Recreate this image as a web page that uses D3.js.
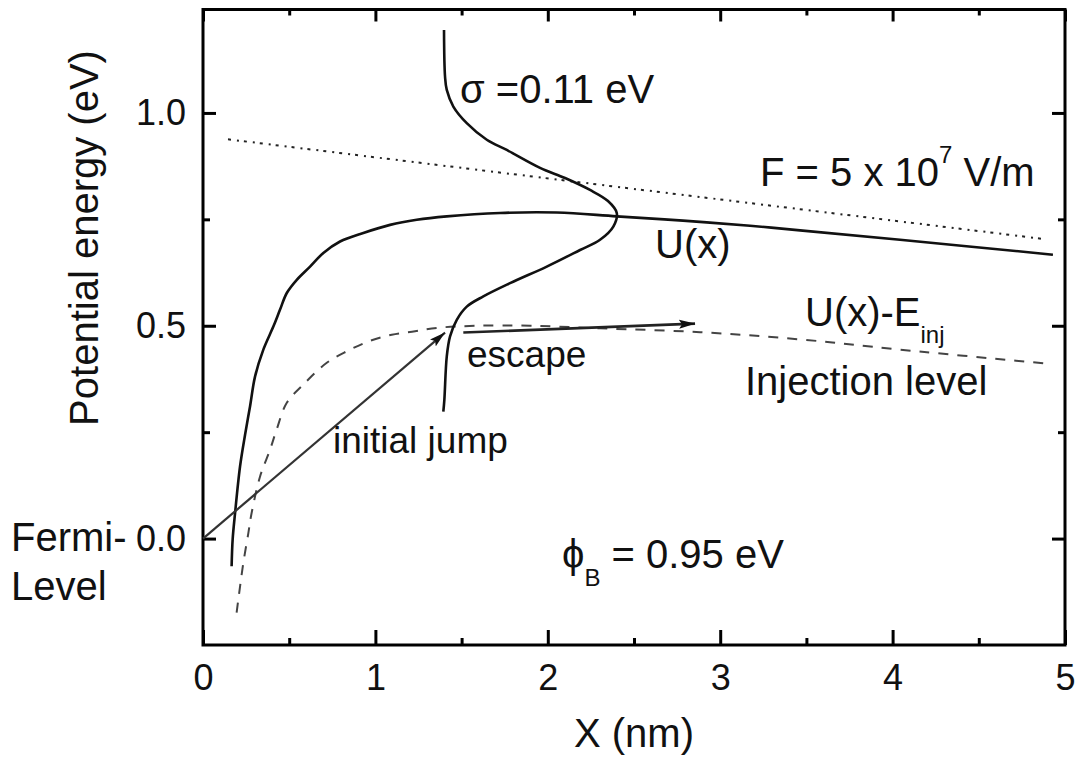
<!DOCTYPE html>
<html>
<head>
<meta charset="utf-8">
<script src="https://cdn.jsdelivr.net/npm/d3@7/dist/d3.min.js"></script>
<style>
  html, body { margin: 0; padding: 0; background: #fff; }
  svg { display: block; font-family: "Liberation Sans", Arial, Helvetica, sans-serif; }
</style>
</head>
<body>
<svg id="chart" width="1081" height="758"></svg>
<script>
// Potential energy landscape for charge injection at a metal/organic contact.

// Axis ticks
const xMajorTicks = [0, 1, 2, 3, 4, 5];
const xMinorTicks = [0.5, 1.5, 2.5, 3.5, 4.5];
const yMajorTicks = [0.0, 0.5, 1.0];
const yMinorTicks = [0.25, 0.75];

// U(x): barrier with image-charge lowering [x (nm), energy (eV)]
const barrierU = [
  [0.166, -0.065], [0.172, -0.002], [0.186, 0.060], [0.215, 0.170],
  [0.244, 0.244], [0.273, 0.311], [0.302, 0.381], [0.350, 0.444],
  [0.408, 0.498], [0.447, 0.538], [0.486, 0.577], [0.544, 0.608],
  [0.621, 0.639], [0.698, 0.671], [0.795, 0.698], [0.930, 0.718],
  [1.085, 0.737], [1.240, 0.749], [1.414, 0.757], [1.723, 0.765],
  [2.052, 0.766], [2.400, 0.757], [2.784, 0.747], [3.173, 0.735],
  [3.463, 0.724], [4.043, 0.702], [4.930, 0.667]
];

// U(x) - E_inj: injection level [x (nm), energy (eV)]
const injectionLevel = [
  [0.195, -0.174], [0.215, -0.112], [0.234, -0.057], [0.263, 0.013],
  [0.282, 0.060], [0.331, 0.146], [0.389, 0.209], [0.427, 0.256],
  [0.486, 0.319], [0.582, 0.362], [0.718, 0.413], [0.834, 0.440],
  [0.959, 0.463], [1.095, 0.479], [1.230, 0.487], [1.356, 0.495],
  [1.588, 0.500], [1.900, 0.500], [2.300, 0.494], [2.883, 0.485],
  [3.463, 0.468], [4.043, 0.444], [4.894, 0.411]
];

// Applied-field line, F = 5e7 V/m [x (nm), energy (eV)]
const fieldLine = [[0.145, 0.938], [4.894, 0.703]];

// Gaussian density of states, sigma = 0.11 eV [energy (eV), x (nm)]
const gaussianDOS = [
  [1.195, 1.398], [1.085, 1.404], [1.054, 1.414], [1.015, 1.452],
  [0.976, 1.530], [0.937, 1.646], [0.913, 1.762], [0.871, 1.955],
  [0.847, 2.100], [0.819, 2.245], [0.793, 2.349], [0.765, 2.400],
  [0.733, 2.380], [0.702, 2.303], [0.678, 2.187], [0.639, 1.994],
  [0.600, 1.781], [0.569, 1.626], [0.545, 1.530], [0.514, 1.472],
  [0.475, 1.433], [0.428, 1.414], [0.326, 1.400], [0.298, 1.394]
];

// Arrows [x (nm), energy (eV)]
const initialJump = [[0.0, 0.0], [1.404, 0.484]];
const escapeArrow = [[1.510, 0.484], [2.854, 0.505]];

const svg = d3.select("#chart");
const W = 1081, H = 758;
svg.append("rect").attr("width", W).attr("height", H).attr("fill", "#fff");

const plot = { left: 203, right: 1065, top: 9.5, bottom: 645 };

const x = d3.scaleLinear().domain([0, 5]).range([plot.left, plot.right]);
const y = d3.scaleLinear().domain([-0.25, 1.243]).range([plot.bottom, plot.top]);

const tickFont = 36;
const textFont = 40;

// Arrowhead marker
const defs = svg.append("defs");
defs.append("marker")
  .attr("id", "arrowHead")
  .attr("viewBox", "0 0 16 10")
  .attr("refX", 16).attr("refY", 5)
  .attr("markerWidth", 16).attr("markerHeight", 10)
  .attr("markerUnits", "userSpaceOnUse")
  .attr("orient", "auto")
  .append("path")
  .attr("d", "M0,0.5 L16,5 L0,9.5 L3,5 Z")
  .attr("fill", "#111");

// Axes: inward ticks on all four sides
function styleAxis(g) {
  g.select(".domain").remove();
  g.selectAll(".tick line").attr("stroke", "#000").attr("stroke-width", 3);
  g.selectAll(".tick text")
    .attr("fill", "#111")
    .attr("font-size", tickFont)
    .attr("font-family", "Liberation Sans, Arial, sans-serif");
}

svg.append("g")
  .attr("transform", `translate(0,${plot.bottom})`)
  .call(d3.axisBottom(x).tickValues(xMajorTicks).tickFormat(d3.format("d"))
    .tickSizeInner(-15).tickSizeOuter(0).tickPadding(19))
  .call(styleAxis);
svg.append("g")
  .attr("transform", `translate(0,${plot.bottom})`)
  .call(d3.axisBottom(x).tickValues(xMinorTicks).tickFormat("")
    .tickSizeInner(-7).tickSizeOuter(0))
  .call(styleAxis);
svg.append("g")
  .attr("transform", `translate(0,${plot.top})`)
  .call(d3.axisTop(x).tickValues(xMajorTicks).tickFormat("")
    .tickSizeInner(-12).tickSizeOuter(0))
  .call(styleAxis);
svg.append("g")
  .attr("transform", `translate(0,${plot.top})`)
  .call(d3.axisTop(x).tickValues(xMinorTicks).tickFormat("")
    .tickSizeInner(-6).tickSizeOuter(0))
  .call(styleAxis);

svg.append("g")
  .attr("transform", `translate(${plot.left},0)`)
  .call(d3.axisLeft(y).tickValues(yMajorTicks).tickFormat(d3.format(".1f"))
    .tickSizeInner(-13).tickSizeOuter(0).tickPadding(17))
  .call(styleAxis);
svg.append("g")
  .attr("transform", `translate(${plot.left},0)`)
  .call(d3.axisLeft(y).tickValues(yMinorTicks).tickFormat("")
    .tickSizeInner(-7).tickSizeOuter(0))
  .call(styleAxis);
svg.append("g")
  .attr("transform", `translate(${plot.right},0)`)
  .call(d3.axisRight(y).tickValues(yMajorTicks).tickFormat("")
    .tickSizeInner(-13).tickSizeOuter(0))
  .call(styleAxis);
svg.append("g")
  .attr("transform", `translate(${plot.right},0)`)
  .call(d3.axisRight(y).tickValues(yMinorTicks).tickFormat("")
    .tickSizeInner(-7).tickSizeOuter(0))
  .call(styleAxis);

// Frame
svg.append("rect")
  .attr("x", plot.left).attr("y", plot.top)
  .attr("width", plot.right - plot.left).attr("height", plot.bottom - plot.top)
  .attr("fill", "none").attr("stroke", "#000").attr("stroke-width", 3);

// Curves
const xyLine = d3.line().x(d => x(d[0])).y(d => y(d[1]));
const smoothLine = d3.line().x(d => x(d[0])).y(d => y(d[1])).curve(d3.curveCatmullRom.alpha(0.5));
const dosLine = d3.line().x(d => x(d[1])).y(d => y(d[0])).curve(d3.curveCatmullRom.alpha(0.5));

svg.append("path").datum(fieldLine)
  .attr("d", xyLine).attr("fill", "none")
  .attr("stroke", "#222").attr("stroke-width", 2)
  .attr("stroke-dasharray", "3,6,2,5");

svg.append("path").datum(injectionLevel)
  .attr("d", smoothLine).attr("fill", "none")
  .attr("stroke", "#444").attr("stroke-width", 2)
  .attr("stroke-dasharray", "10,9");

svg.append("path").datum(barrierU)
  .attr("d", smoothLine).attr("fill", "none")
  .attr("stroke", "#111").attr("stroke-width", 2.6);

svg.append("path").datum(gaussianDOS)
  .attr("d", dosLine).attr("fill", "none")
  .attr("stroke", "#111").attr("stroke-width", 2.6);

svg.append("path").datum(initialJump)
  .attr("d", xyLine).attr("fill", "none")
  .attr("stroke", "#333").attr("stroke-width", 2.2)
  .attr("marker-end", "url(#arrowHead)");

svg.append("path").datum(escapeArrow)
  .attr("d", xyLine).attr("fill", "none")
  .attr("stroke", "#222").attr("stroke-width", 2.6)
  .attr("marker-end", "url(#arrowHead)");

// Annotations
const ann = svg.append("g").attr("fill", "#111").attr("font-size", textFont);

ann.append("text").attr("x", 460).attr("y", 103).text("σ =0.11 eV");

const fText = ann.append("text").attr("x", 760).attr("y", 186);
fText.append("tspan").text("F = 5 x 10");
fText.append("tspan").attr("font-size", 24).attr("dy", -23).text("7");
fText.append("tspan").attr("dy", 23).text(" V/m");

ann.append("text").attr("x", 655).attr("y", 258).text("U(x)");

const uInj = ann.append("text").attr("x", 805).attr("y", 326);
uInj.append("tspan").text("U(x)-E");
uInj.append("tspan").attr("font-size", 24).attr("dy", 17).text("inj");

ann.append("text").attr("x", 467).attr("y", 367).attr("font-size", 37).text("escape");
ann.append("text").attr("x", 745).attr("y", 395).text("Injection level");
ann.append("text").attr("x", 333).attr("y", 453).attr("font-size", 37).text("initial jump");

const phi = ann.append("text").attr("x", 562).attr("y", 568);
phi.append("tspan").text("ϕ");
phi.append("tspan").attr("font-size", 24).attr("dy", 18).text("B");
phi.append("tspan").attr("dy", -18).text(" = 0.95 eV");

ann.append("text").attr("x", 11).attr("y", 551).text("Fermi-");
ann.append("text").attr("x", 11).attr("y", 600).text("Level");

// Axis titles
svg.append("text")
  .attr("x", (plot.left + plot.right) / 2).attr("y", 747)
  .attr("text-anchor", "middle").attr("font-size", textFont).attr("fill", "#111")
  .text("X (nm)");

svg.append("text")
  .attr("transform", `translate(98,238) rotate(-90)`)
  .attr("text-anchor", "middle").attr("font-size", textFont).attr("fill", "#111")
  .text("Potential energy (eV)");
</script>
</body>
</html>
